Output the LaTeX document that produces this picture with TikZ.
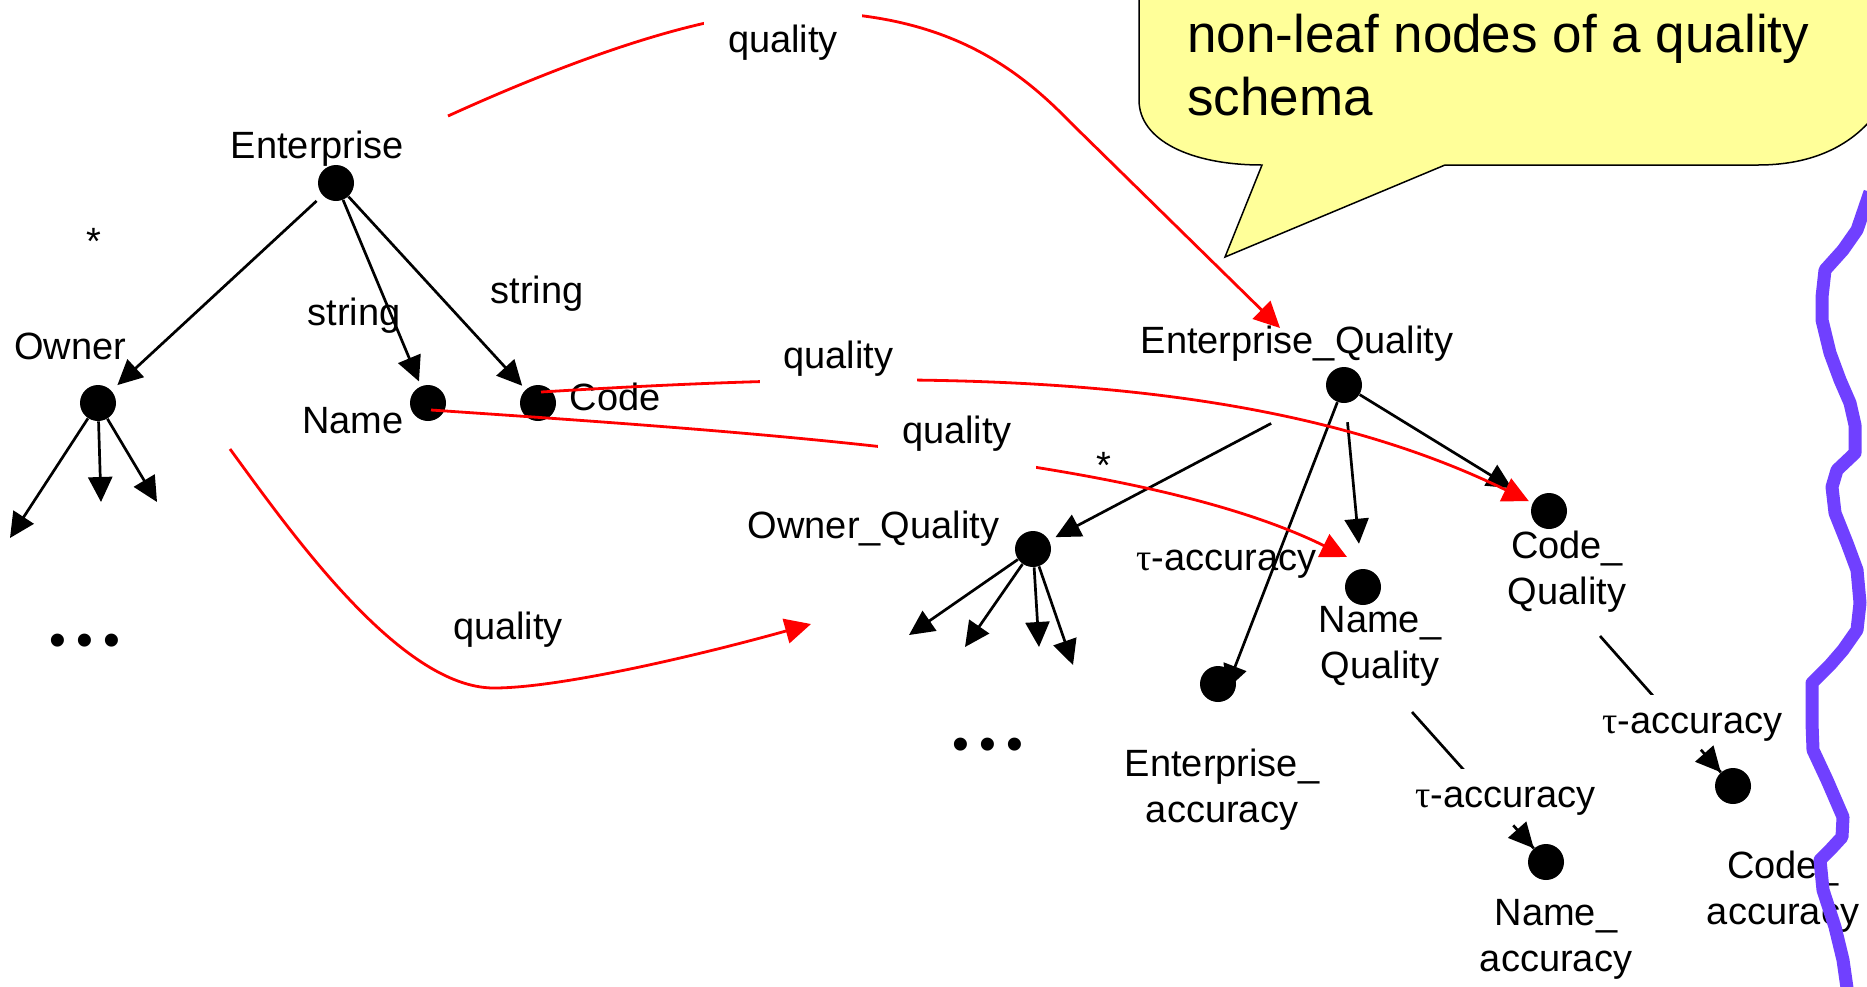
\documentclass[tikz,border=0pt]{standalone}
\usepackage{fontspec}
\setmainfont{Liberation Sans}
\newfontfamily\taufont{Liberation Serif}
\usetikzlibrary{arrows.meta}
\pgfdeclarelayer{back}
\pgfdeclarelayer{edges}
\pgfsetlayers{back,edges,main}
\definecolor{callout}{HTML}{FFFF99}
\definecolor{wave}{HTML}{7040FF}
\definecolor{qred}{HTML}{FF0000}
\newcommand\labfont{\fontsize{19}{23}\selectfont}
\newcommand\tauch{{\taufont τ}}
\begin{document}
\begin{tikzpicture}[x=0.5pt,y=-0.5pt,
  dot/.style={circle,fill=black,inner sep=0pt,minimum size=18pt},
  lab/.style={font=\labfont,inner sep=0pt,anchor=base},
  gap/.style={lab,fill=white,inner xsep=12pt,inner ysep=9pt},
  taugap/.style={lab,fill=white,inner xsep=2pt,inner ysep=9pt},
  tree/.style={line width=1.35pt,-{Triangle[length=12.5pt,width=12pt]}},
  qual/.style={draw=qred,line width=1.4pt,-{Triangle[length=13pt,width=12.5pt]}},
  ellip/.style={font=\fontsize{24}{24}\selectfont,inner sep=0pt}]
\useasboundingbox (0,0) rectangle (1867,986);

% speech bubble
\begin{pgfonlayer}{back}
\draw[fill=callout,line width=0.75pt]
  (1139,-30) -- (1139,100) .. controls (1139,140) and (1190,165) .. (1262,165)
  -- (1225,257) -- (1445,165) -- (1758,165)
  .. controls (1820,165) and (1862,140) .. (1885,100) -- (1885,-30) -- cycle;
\end{pgfonlayer}
\node[anchor=base west,inner sep=0pt,font=\fontsize{26.5}{31.5}\selectfont] (note) at (1187,52)
  {\begin{tabular}[t]{@{}l@{}}non-leaf nodes of a quality\\schema\end{tabular}};

% data schema nodes
\node[dot] (ent) at (336,183) {};
\node[dot] (own) at (98,403) {};
\node[dot] (nam) at (428,403) {};
\node[dot] (cod) at (538,403) {};
% quality schema nodes
\node[dot] (eq) at (1344,385) {};
\node[dot] (oq) at (1033,549) {};
\node[dot] (nq) at (1363,587) {};
\node[dot] (cq) at (1549,511) {};
\node[dot] (ea) at (1218,684) {};
\node[dot] (na) at (1546,862) {};
\node[dot] (ca) at (1733,786) {};

% free ends
\coordinate (oc1) at (10,538);
\coordinate (oc2) at (101,502);
\coordinate (oc3) at (157,502);
\coordinate (qc1) at (909,635);
\coordinate (qc2) at (965,647);
\coordinate (qc3) at (1039,647);
\coordinate (qc4) at (1073,665);
\coordinate (nqs) at (1412,712);
\coordinate (cqs) at (1600,636);

% tree edges
\begin{pgfonlayer}{edges}
\draw[tree,shorten <=4pt,shorten >=4pt] (ent) -- (own);
\draw[tree,shorten >=2.5pt] (ent) -- (nam);
\draw[tree,shorten >=2.5pt] (ent) -- (cod);
\draw[tree] (own) -- (oc1);
\draw[tree] (own) -- (oc2);
\draw[tree] (own) -- (oc3);
\draw[tree,shorten <=32pt,shorten >=3.5pt] (eq) -- (oq);
\draw[tree,shorten <=9.5pt,shorten >=12.5pt] (eq) -- (nq);
\draw[tree,shorten >=12.5pt] (eq) -- (cq);
\draw[tree] (eq) -- ([shift={(4pt,-3pt)}]ea.center);
\draw[tree] (oq) -- (qc1);
\draw[tree] (oq) -- (qc2);
\draw[tree] (oq) -- (qc3);
\draw[tree] (oq) -- (qc4);
\draw[line width=1.35pt] (nqs) -- (na);
\draw[line width=1.35pt] (cqs) -- (ca);
\end{pgfonlayer}

% labels
\node[lab] (entl) at (317.5,158) {Enterprise};
\node[lab] (ownl) at (70,359) {Owner};
\node[lab] (str1) at (354,325) {string};
\node[lab] (str2) at (537,303) {string};
\node[lab] (naml) at (353,433) {Name};
\node[lab] (codl) at (615,410) {Code};
\node[lab] (st1) at (94,254) {*};
\node[lab] (st2) at (1104,478) {*};
\node[ellip] (dots1) at (85,645) {•\kern5.2pt•\kern5.2pt•};
\node[ellip] (dots2) at (988,749) {•\kern5.2pt•\kern5.2pt•};
\node[lab] (eql) at (1297,353) {Enterprise\_Quality};
\node[lab] (oql) at (873.5,538) {Owner\_Quality};
\node[lab] (tau1) at (1226.5,570) {\tauch-accuracy};
\node[lab] (nql) at (1380,632) {\begin{tabular}[t]{@{}c@{}}Name\_\\Quality\end{tabular}};
\node[lab] (cql) at (1567,558) {\begin{tabular}[t]{@{}c@{}}Code\_\\Quality\end{tabular}};
\node[lab] (eal) at (1222,776) {\begin{tabular}[t]{@{}c@{}}Enterprise\_\\accuracy\end{tabular}};
\node[lab] (nal) at (1556,925) {\begin{tabular}[t]{@{}c@{}}Name\_\\accuracy\end{tabular}};
\node[lab] (cal) at (1783,878) {\begin{tabular}[t]{@{}c@{}}Code\_\\accuracy\end{tabular}};
\node[taugap] (tau2) at (1505.5,807) {\tauch-accuracy};
\node[taugap] (tau3) at (1692.5,733) {\tauch-accuracy};
% arrow tips of the accuracy edges, above the label boxes
\draw[tree,shorten <=76pt] (nqs) -- (na);
\draw[tree,shorten <=76pt] (cqs) -- (ca);

% quality mappings
\coordinate (rs1) at (448,116);
\coordinate (rt1) at (1280,328);
\coordinate (rs2) at (541,392);
\coordinate (rs3) at (431,410);
\coordinate (rt3) at (1347,557);
\coordinate (rs4) at (230,449);
\coordinate (rt4) at (811,624);
\draw[qual] (rs1) .. controls (560,65) and (700,12) .. (790,12)
  .. controls (935,10) and (1010,60) .. (1070,122) -- (rt1);
\draw[qual,shorten >=2pt] (rs2) .. controls (900,370) and (1250,365) .. (cq);
\draw[qual] (rs3) .. controls (800,435) and (1150,460) .. (rt3);
\draw[qual] (rs4) .. controls (290,531) and (400,688) .. (494,688)
  .. controls (560,688) and (700,655) .. (rt4);
\node[gap] (q1) at (783,52) {quality};
\node[gap] (q2) at (838.5,368) {quality};
\node[gap] (q3) at (957,443) {quality};
\node[lab] (q4) at (508,639) {quality};

% boundary line
\draw[wave,line width=6.5pt,line join=round]
  (1870,192) -- (1857,230) -- (1843,250) -- (1825,270) -- (1822,297) -- (1822,320)
  -- (1830,353) -- (1840,380) -- (1850,403) -- (1855,425) -- (1855,453) -- (1837,470)
  -- (1832,487) -- (1835,513) -- (1847,543) -- (1857,570) -- (1860,603) -- (1857,630)
  -- (1843,650) -- (1830,665) -- (1812,683) -- (1812,723) -- (1813,750) -- (1827,780)
  -- (1843,817) -- (1842,837) -- (1830,850) -- (1820,860) -- (1823,890) -- (1835,927)
  -- (1843,960) -- (1848,995);
\end{tikzpicture}
\end{document}
